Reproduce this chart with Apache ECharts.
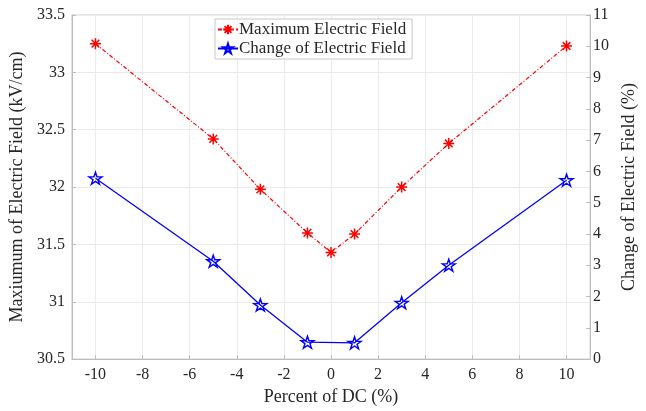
<!DOCTYPE html>
<html>
<head>
<meta charset="utf-8">
<script src="https://cdn.jsdelivr.net/npm/echarts@6/dist/echarts.min.js"></script>
<style>html,body{margin:0;padding:0;background:#fff;}#c{width:646px;height:411px;}</style>
</head>
<body>
<div id="c"></div>
<script>
const xValues = [-10, -5, -3, -1, 0, 1, 3, 5, 10];
const maxField = [33.25, 32.42, 31.98, 31.60, 31.43, 31.59, 32.00, 32.38, 33.23];
const xChange = [-10, -5, -3, -1, 1, 3, 5, 10];
const changeField = [5.78, 3.13, 1.73, 0.54, 0.52, 1.80, 3.00, 5.72];
const xTicks = [-10, -8, -6, -4, -2, 0, 2, 4, 6, 8, 10];

const FONT = '"Liberation Serif", "Times New Roman", serif';
const TXT = '#262626';
const asterisk = 'path://M0,-1L0,1M-1,0L1,0M-0.7,-0.7L0.7,0.7M-0.7,0.7L0.7,-0.7M0,-1Z';
const star = 'path://M0,-1L0.225,-0.309L0.951,-0.309L0.363,0.118L0.588,0.809L0,0.382L-0.588,0.809L-0.363,0.118L-0.951,-0.309L-0.225,-0.309Z';

const chart = echarts.init(document.getElementById('c'), null, {renderer: 'canvas'});
chart.setOption({
  animation: false,
  backgroundColor: '#fff',
  textStyle: {fontFamily: FONT},
  grid: {left: 65, right: 45, top: 15, bottom: 48, show: true, borderColor: '#cccccc', borderWidth: 1, containLabel: false},
  legend: {
    left: 215, top: 19, orient: 'vertical',
    backgroundColor: '#fff', borderColor: '#c8c8c8', borderWidth: 1,
    padding: [2, 6, 2, 2], itemGap: 2, itemWidth: 20, itemHeight: 12,
    textStyle: {fontFamily: FONT, fontSize: 17, color: TXT, padding: [0, 0, 0, -4]},
    data: ['Maximum Electric Field', 'Change of Electric Field']
  },
  xAxis: {
    type: 'value', min: -11, max: 11,
    name: 'Percent of DC (%)', nameLocation: 'middle', nameGap: 24,
    nameTextStyle: {fontFamily: FONT, fontSize: 18, color: TXT},
    axisLine: {show: true, onZero: false, lineStyle: {color: '#bcbcbc'}},
    axisTick: {show: true, inside: true, length: 4, customValues: xTicks, lineStyle: {color: '#bcbcbc'}},
    axisLabel: {customValues: xTicks, fontFamily: FONT, fontSize: 16, color: TXT, margin: 8},
    splitLine: {show: true, lineStyle: {color: '#ebebeb'}}
  },
  yAxis: [{
    type: 'value', min: 30.5, max: 33.5, interval: 0.5, position: 'left',
    name: 'Maxiumum of Electric Field (kV/cm)', nameLocation: 'middle', nameGap: 31,
    nameTextStyle: {fontFamily: FONT, fontSize: 18, color: TXT},
    axisLine: {show: true, onZero: false, lineStyle: {color: '#bcbcbc'}},
    axisTick: {show: true, inside: true, length: 4, lineStyle: {color: '#bcbcbc'}},
    axisLabel: {fontFamily: FONT, fontSize: 16, color: TXT, margin: 7},
    splitLine: {show: true, lineStyle: {color: '#ebebeb'}}
  }, {
    type: 'value', min: 0, max: 11, interval: 1, position: 'right',
    name: 'Change of Electric Field (%)', nameLocation: 'middle', nameGap: 27,
    nameTextStyle: {fontFamily: FONT, fontSize: 18, color: TXT},
    axisLine: {show: true, onZero: false, lineStyle: {color: '#bcbcbc'}},
    axisTick: {show: true, inside: true, length: 4, lineStyle: {color: '#bcbcbc'}},
    axisLabel: {fontFamily: FONT, fontSize: 16, color: TXT, margin: 3},
    splitLine: {show: false}
  }],
  series: [{
    name: 'Maximum Electric Field', type: 'line', yAxisIndex: 0,
    data: xValues.map((x, i) => [x, maxField[i]]),
    symbol: asterisk, symbolSize: 11, showAllSymbol: true,
    itemStyle: {color: '#ff0000', borderColor: '#ff0000', borderWidth: 1.5},
    lineStyle: {color: '#ff0000', width: 1.2, type: [4, 2, 1, 2]}
  }, {
    name: 'Change of Electric Field', type: 'line', yAxisIndex: 1,
    data: xChange.map((x, i) => [x, changeField[i]]),
    symbol: star, symbolSize: [13, 12], showAllSymbol: true,
    itemStyle: {color: 'rgba(0,0,0,0)', borderColor: '#0000ff', borderWidth: 1.4},
    lineStyle: {color: '#0000ff', width: 1.3}
  }]
});
</script>
</body>
</html>
